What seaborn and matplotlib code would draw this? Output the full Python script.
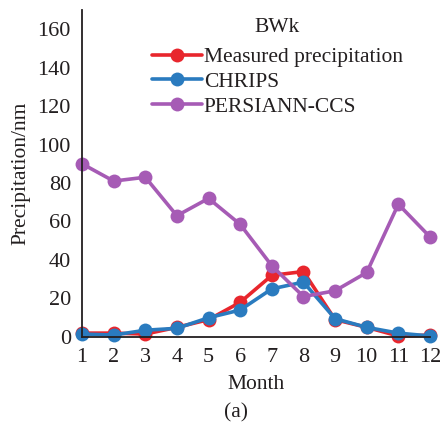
import matplotlib
matplotlib.use("Agg")
import matplotlib.pyplot as plt
import seaborn as sns
import pandas as pd

months = list(range(1, 13))
measured = [2, 2, 1.5, 5, 9, 18, 32, 34, 9, 5, 0.5, 1]
chrips = [1.5, 1, 3.5, 4.5, 10, 14, 25, 28.5, 9.5, 5, 2, 0.5]
persiann = [90, 81, 83, 63, 72, 58.5, 37, 21, 24, 33.5, 69, 52]
series_names = ["Measured precipitation", "CHRIPS", "PERSIANN-CCS"]
colors = ["#e8262d", "#2a7bbf", "#a65bb5"]

df = pd.DataFrame({
    "Month": months * 3,
    "value": measured + chrips + persiann,
    "series": [series_names[0]] * 12 + [series_names[1]] * 12 + [series_names[2]] * 12,
})

sns.set_theme(style="white")
plt.rcParams["font.family"] = ["Liberation Serif", "DejaVu Serif"]

fig = plt.figure(figsize=(4.41, 4.26), dpi=100)
ax = fig.add_axes([0.186, 0.209, 0.789, 0.768])

sns.lineplot(data=df, x="Month", y="value", hue="series", hue_order=series_names,
             palette=dict(zip(series_names, colors)), marker="o", markersize=10,
             markeredgewidth=0, linewidth=2.6, ax=ax, legend=False)

ax.set_xlim(1, 12)
ax.set_ylim(0, 170)
ax.set_xticks(months)
ax.set_yticks(range(0, 161, 20))
ax.tick_params(axis="both", labelsize=16, colors="#231f20", labelcolor="#231f20")
ax.tick_params(axis="x", direction="in", length=6, width=1.2, pad=8)
ax.tick_params(axis="y", direction="out", length=6, width=1.2, pad=2)
for s in ["top", "right"]:
    ax.spines[s].set_visible(False)
for s in ["left", "bottom"]:
    ax.spines[s].set_color("#231f20")
    ax.spines[s].set_linewidth(1.3)
for ln in ax.lines:
    ln.set_clip_on(False)

ax.set_xlabel("Month", fontsize=15.5, color="#231f20", labelpad=6)
ax.set_ylabel("Precipitation/nm", fontsize=15.5, color="#231f20", labelpad=5)

from matplotlib.lines import Line2D
handles = [Line2D([], [], color=c, marker="o", markersize=10, markeredgewidth=0, linewidth=2.6)
           for c in colors]
leg = ax.legend(handles, series_names, title="BWk", loc="upper left",
                bbox_to_anchor=(0.177, 1.0), frameon=False, fontsize=15.5,
                title_fontsize=15.5, handlelength=2.3, handletextpad=0.1,
                labelspacing=0.22, borderaxespad=0.0)
leg._legend_box.sep = 7
for t in leg.get_texts():
    t.set_color("#231f20")
leg.get_title().set_color("#231f20")

fig.text(0.535, 0.03, "(a)", ha="center", va="center", fontsize=15.5, color="#231f20")

fig.savefig("out.png", dpi=100, facecolor="white")
